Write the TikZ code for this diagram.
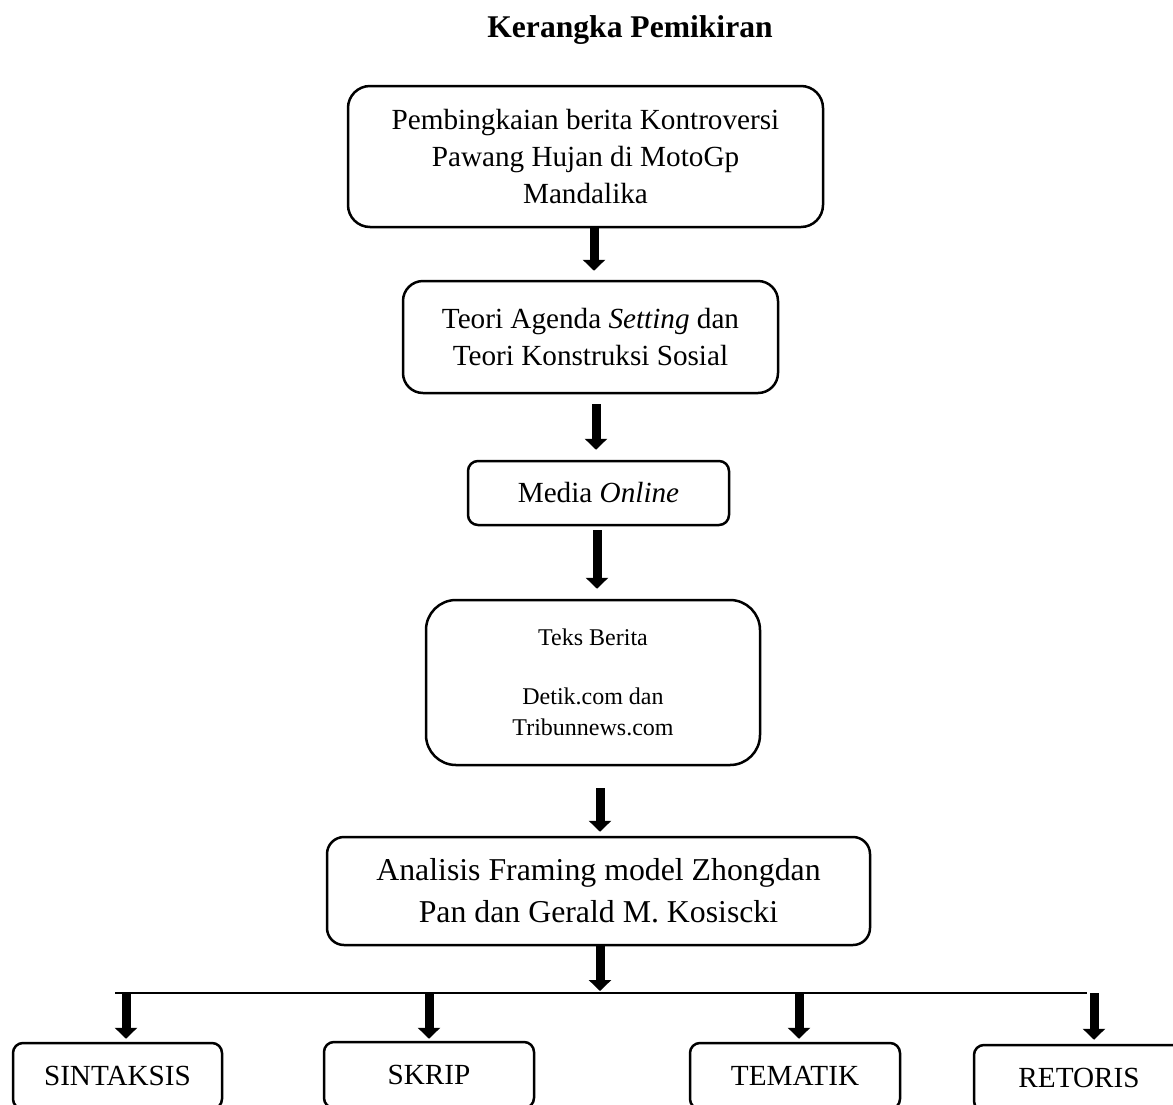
\documentclass[tikz,border=0pt]{standalone}
\usepackage{fontspec}
\setmainfont{Liberation Serif}
\usetikzlibrary{arrows.meta}

\newcommand{\bodyfont}{\fontsize{14.6}{18.5}\selectfont}

\begin{document}
\begin{tikzpicture}[x=0.5pt, y=-0.5pt,
    box/.style={draw, line width=1.25pt, align=center, inner sep=1pt, font=\bodyfont},
    flow/.style={line width=4.5pt, -{Triangle[width=11pt,length=5.5pt]}},
    bus/.style={line width=0.75pt}]
        \useasboundingbox (0,0) rectangle (1173,1104);

        % Title
        \node[font=\fontsize{15.8}{19}\selectfont\bfseries] (title) at (630,30) {Kerangka Pemikiran};

        % Main column
        \node[box, rounded corners=11pt, minimum width=237.5pt, minimum height=70.5pt] (frame) at (585.5,156.5)
            {Pembingkaian berita Kontroversi\\Pawang Hujan di MotoGp\\Mandalika};
        \node[box, rounded corners=10pt, minimum width=187.5pt, minimum height=56pt] (theory) at (590.5,337)
            {Teori Agenda \textit{Setting} dan\\Teori Konstruksi Sosial};
        \node[box, rounded corners=5pt, minimum width=130.5pt, minimum height=32pt] (media) at (598.5,493)
            {Media \textit{Online}};
        \node[box, rounded corners=15pt, minimum width=167pt, minimum height=82.5pt,
            font=\fontsize{12}{15.5}\selectfont] (news) at (593,682.5)
            {Teks Berita\\[14pt]Detik.com dan\\Tribunnews.com};
        \node[box, rounded corners=8.5pt, minimum width=271.5pt, minimum height=54pt,
            font=\fontsize{15.9}{21}\selectfont] (framing) at (598.5,891)
            {Analisis Framing model Zhongdan\\Pan dan Gerald M. Kosiscki};

        % Framing devices
        \node[box, rounded corners=5pt, minimum width=104.5pt, minimum height=33pt] (sintaksis) at (117.5,1076) {SINTAKSIS};
        \node[box, rounded corners=5pt, minimum width=105pt, minimum height=33pt] (skrip) at (429,1075) {SKRIP};
        \node[box, rounded corners=5pt, minimum width=105pt, minimum height=33pt] (tematik) at (795,1076) {TEMATIK};
        \node[box, rounded corners=5pt, minimum width=105pt, minimum height=33pt] (retoris) at (1079,1078) {RETORIS};

        % Arrows down the column
        \draw[flow] ([xshift=4.25pt]frame.south) -- ([xshift=1.75pt,yshift=4.5pt]theory.north);
        \draw[flow] ([xshift=2.75pt,yshift=-5pt]theory.south) -- ([xshift=-1.25pt,yshift=5pt]media.north);
        \draw[flow] ([xshift=-0.75pt,yshift=-2pt]media.south) -- ([xshift=2pt,yshift=5pt]news.north);
        \draw[flow] ([xshift=3.5pt,yshift=-11pt]news.south) -- ([xshift=0.75pt,yshift=2pt]framing.north);

        % Branching line
        \coordinate (busL) at (115,993);
        \coordinate (busR) at (1087,993);
        \draw[bus] (busL) -- (busR);
        \draw[flow] ([xshift=0.75pt]framing.south) -- ([xshift=0.75pt,yshift=1pt]framing.south |- busL);

        % Arrows to the four devices
        \draw[flow] ([xshift=4.25pt]sintaksis.north |- busL) -- ([xshift=4.25pt,yshift=1.5pt]sintaksis.north);
        \draw[flow] (skrip.north |- busL) -- ([yshift=1pt]skrip.north);
        \draw[flow] ([xshift=2pt]tematik.north |- busL) -- ([xshift=2pt,yshift=1.5pt]tematik.north);
        \draw[flow] ([xshift=7.5pt]retoris.north |- busL) -- ([xshift=7.5pt,yshift=2pt]retoris.north);

    \end{tikzpicture}
\end{document}
